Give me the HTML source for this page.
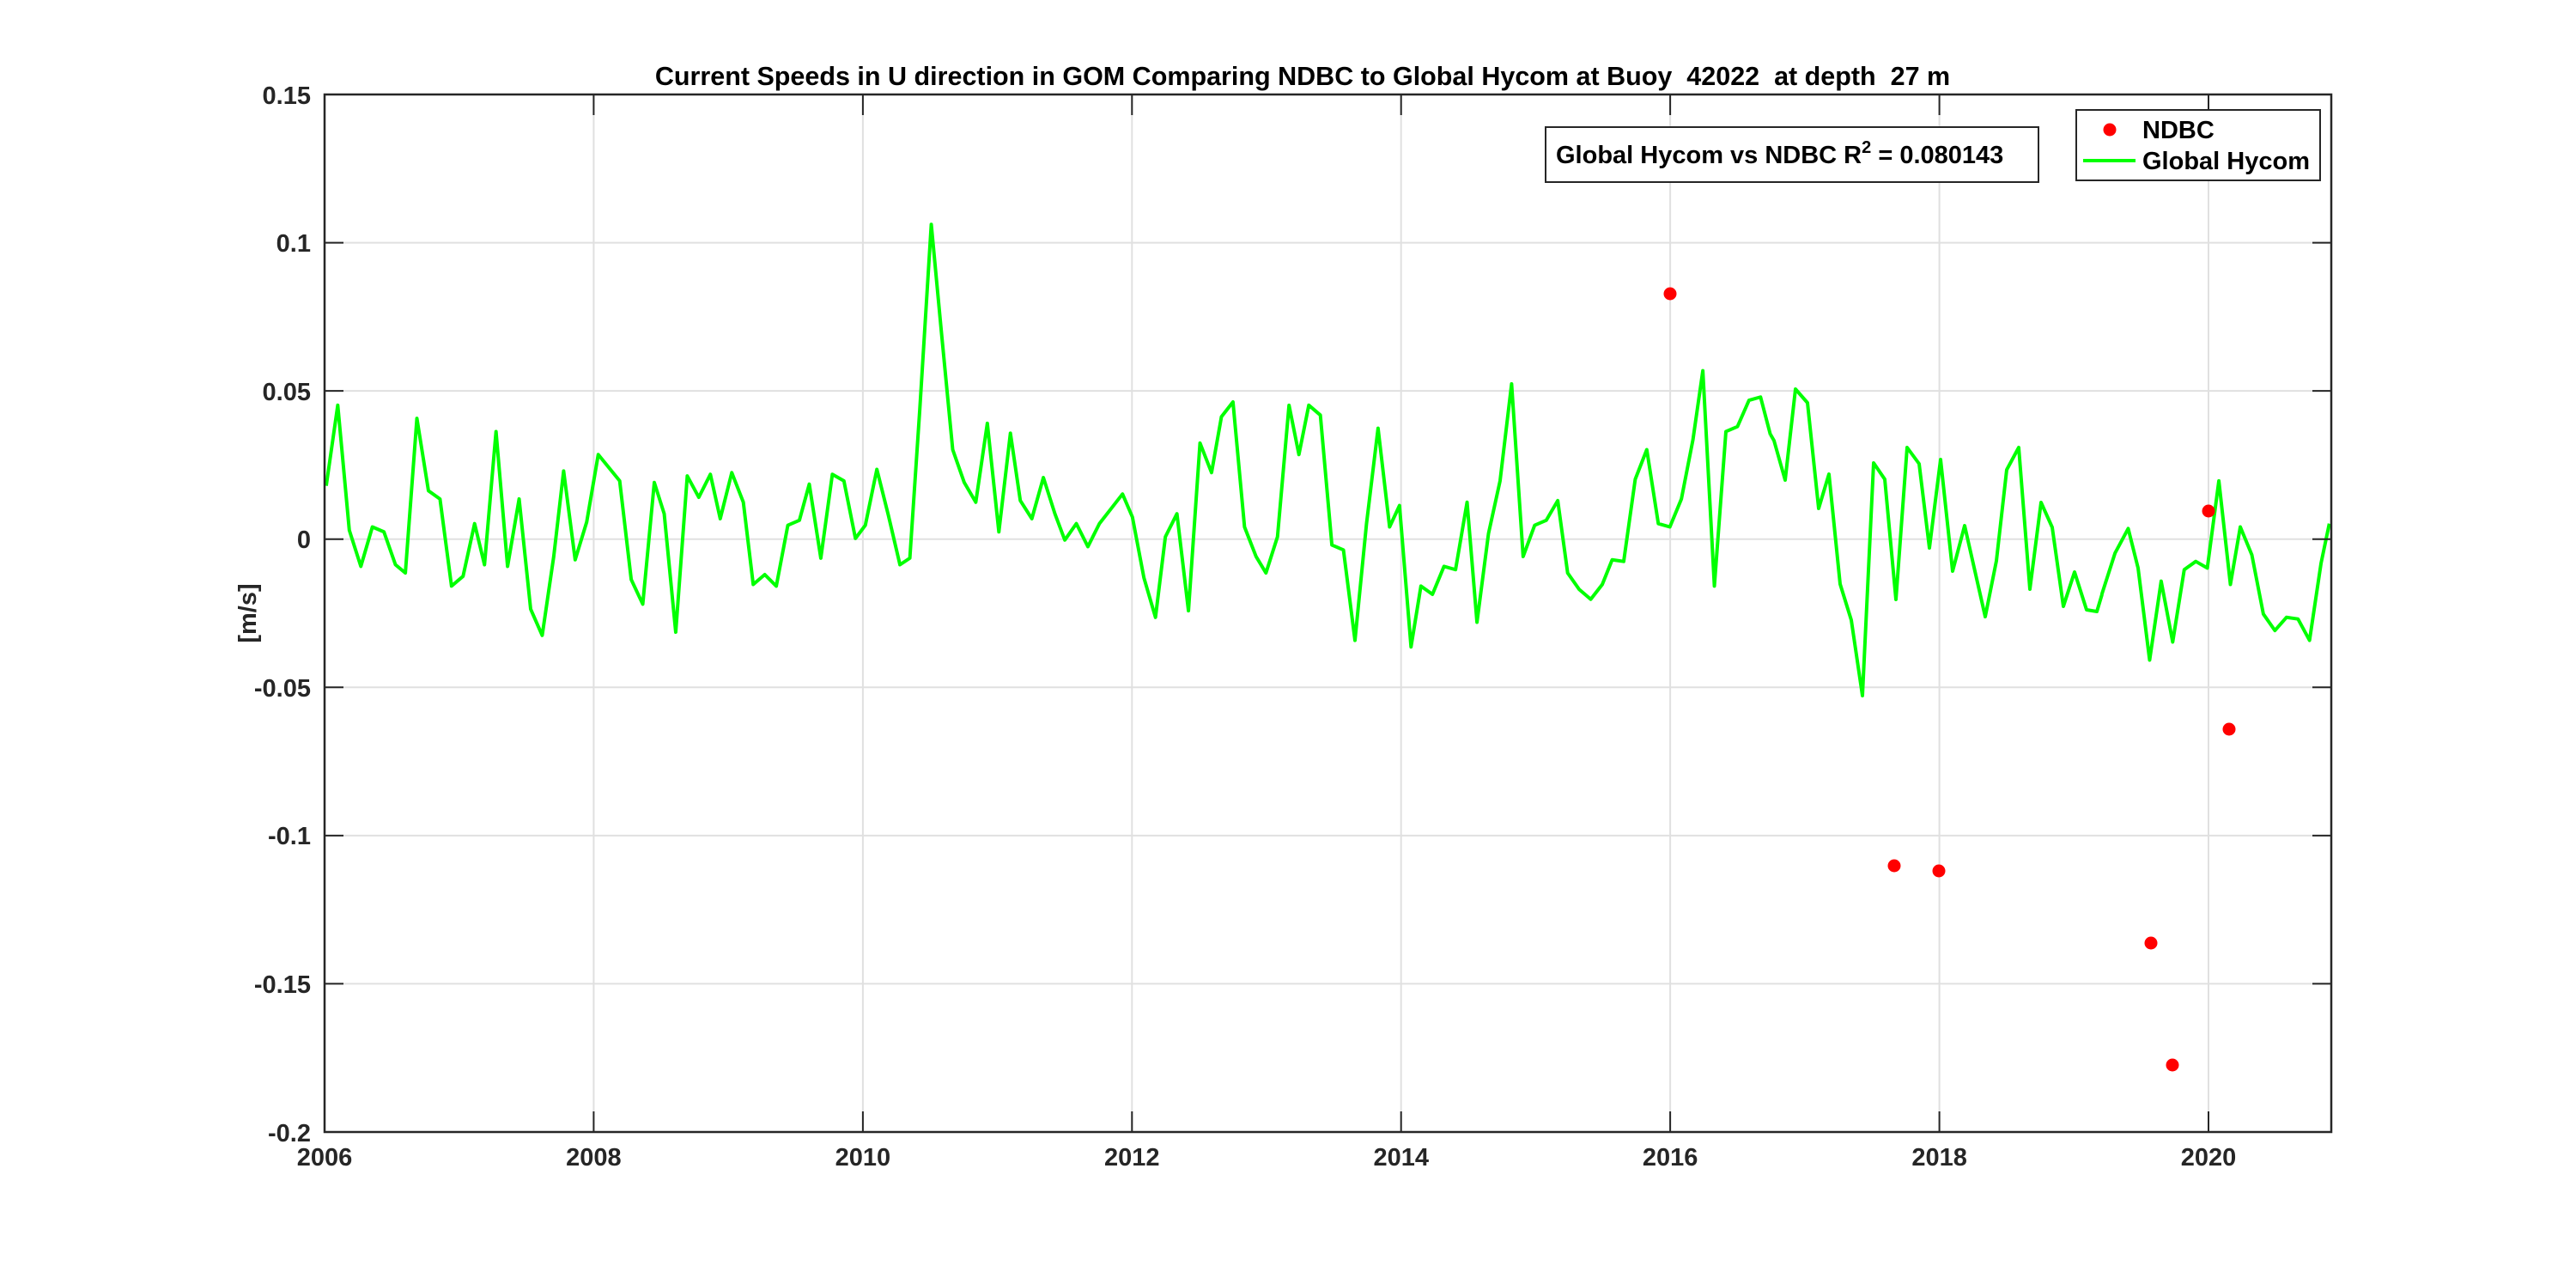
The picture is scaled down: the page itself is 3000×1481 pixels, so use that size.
<!DOCTYPE html>
<html><head><style>
html,body{margin:0;padding:0;background:#fff;}
svg{display:block;font-family:"Liberation Sans",Arial,sans-serif;font-weight:bold;}
</style></head><body>
<svg width="3000" height="1481" viewBox="0 0 3000 1481" xmlns="http://www.w3.org/2000/svg">
<rect width="3000" height="1481" fill="#fff"/>
<g stroke="#e0e0e0" stroke-width="2">
<line x1="691.4" y1="110" x2="691.4" y2="1318"/>
<line x1="1004.9" y1="110" x2="1004.9" y2="1318"/>
<line x1="1318.3" y1="110" x2="1318.3" y2="1318"/>
<line x1="1631.7" y1="110" x2="1631.7" y2="1318"/>
<line x1="1945.1" y1="110" x2="1945.1" y2="1318"/>
<line x1="2258.6" y1="110" x2="2258.6" y2="1318"/>
<line x1="2572" y1="110" x2="2572" y2="1318"/>
<line x1="378" y1="282.6" x2="2715" y2="282.6"/>
<line x1="378" y1="455.1" x2="2715" y2="455.1"/>
<line x1="378" y1="627.7" x2="2715" y2="627.7"/>
<line x1="378" y1="800.3" x2="2715" y2="800.3"/>
<line x1="378" y1="972.9" x2="2715" y2="972.9"/>
<line x1="378" y1="1145.4" x2="2715" y2="1145.4"/>
</g>
<g transform="translate(378 110) scale(1.92 1.9144) translate(-202 -57)">
<polyline fill="none" stroke="#00ff00" stroke-width="4" vector-effect="non-scaling-stroke" stroke-linejoin="round" points="203,295 210,246 217,322 224,344 231,320 238,323 245,343 251,348 258,254 265,298 272,303 279,356 286,350 293,318 299,343 306,262 313,344 320,303 327,370 334,386 341,338 347,286 354,340 361,317 368,276 381,292 388,352 395,367 402,293 408,312 415,384 422,289 429,302 436,288 442,315 449,287 456,305 462,355 469,349 476,356 483,319 490,316 496,294 503,339 510,288 517,292 524,327 530,319 537,285 544,313 551,343 557,339 563,249 570,136 576,200 583,273 590,293 597,305 604,257 611,323 618,263 624,304 631,315 638,290 645,312 651,328 658,318 665,332 672,318 679,309 686,300 692,314 699,351 706,375 712,326 719,312 726,371 733,269 740,287 746,253 753,244 760,320 767,338 773,348 780,326 787,246 793,276 799,246 806,252 813,331 820,334 827,389 834,318 841,260 848,320 854,307 861,393 867,356 874,361 881,344 888,346 895,305 901,378 908,324 915,292 922,233 929,338 936,319 943,316 950,304 956,348 963,358 970,364 977,355 983,340 990,341 997,291 1004,273 1011,318 1018,320 1025,303 1032,267 1038,225 1045,356 1052,262 1059,259 1066,243 1073,241 1079,264"/>
<polyline fill="none" stroke="#00ff00" stroke-width="4" vector-effect="non-scaling-stroke" stroke-linejoin="round" points="1280,361 1288,336 1296,321 1302,345 1309,401 1316,353 1323,390 1330,346 1337,341 1344,345 1351,292 1358,355 1364,320 1371,337 1378,373 1385,383 1392,375 1399,376 1406,389 1413,342 1418,318"/>
</g>
<polyline fill="none" stroke="#00ff00" stroke-width="4" stroke-linejoin="round" points="2062,506 2066,513 2079,559 2091,453 2105,469 2118,592 2130,552 2143,680 2156,722 2169,810 2182,539 2195,558 2208,698 2221,521 2235,540 2247,638 2260,535 2274,665 2288,612 2312,718 2325,653 2337,547 2351,521 2364,686 2377,585 2390,614 2403,706 2416,666 2430,710 2442,712 2448,692"/>
<g fill="#ff0000">
<circle cx="1945" cy="342" r="7.5"/>
<circle cx="2206" cy="1008" r="7.5"/>
<circle cx="2258" cy="1014" r="7.5"/>
<circle cx="2505" cy="1098" r="7.5"/>
<circle cx="2530" cy="1240" r="7.5"/>
<circle cx="2572" cy="595" r="7.5"/>
<circle cx="2596" cy="849" r="7.5"/>
</g>
<rect x="378" y="110" width="2337" height="1208" fill="none" stroke="#262626" stroke-width="2.5"/>
<g stroke="#262626" stroke-width="2">
<line x1="378" y1="1318" x2="378" y2="1294"/><line x1="691.4" y1="1318" x2="691.4" y2="1294"/><line x1="1004.9" y1="1318" x2="1004.9" y2="1294"/><line x1="1318.3" y1="1318" x2="1318.3" y2="1294"/><line x1="1631.7" y1="1318" x2="1631.7" y2="1294"/><line x1="1945.1" y1="1318" x2="1945.1" y2="1294"/><line x1="2258.6" y1="1318" x2="2258.6" y2="1294"/><line x1="2572" y1="1318" x2="2572" y2="1294"/>
<line x1="691.4" y1="110" x2="691.4" y2="134"/><line x1="1004.9" y1="110" x2="1004.9" y2="134"/><line x1="1318.3" y1="110" x2="1318.3" y2="134"/><line x1="1631.7" y1="110" x2="1631.7" y2="134"/><line x1="1945.1" y1="110" x2="1945.1" y2="134"/><line x1="2258.6" y1="110" x2="2258.6" y2="134"/><line x1="2572" y1="110" x2="2572" y2="134"/>
<line x1="378" y1="282.6" x2="400" y2="282.6"/><line x1="378" y1="455.1" x2="400" y2="455.1"/><line x1="378" y1="627.7" x2="400" y2="627.7"/><line x1="378" y1="800.3" x2="400" y2="800.3"/><line x1="378" y1="972.9" x2="400" y2="972.9"/><line x1="378" y1="1145.4" x2="400" y2="1145.4"/>
<line x1="2715" y1="282.6" x2="2693" y2="282.6"/><line x1="2715" y1="455.1" x2="2693" y2="455.1"/><line x1="2715" y1="627.7" x2="2693" y2="627.7"/><line x1="2715" y1="800.3" x2="2693" y2="800.3"/><line x1="2715" y1="972.9" x2="2693" y2="972.9"/><line x1="2715" y1="1145.4" x2="2693" y2="1145.4"/>
</g>
<g fill="#262626" font-size="29" text-anchor="end">
<text x="362" y="121">0.15</text>
<text x="362" y="293">0.1</text>
<text x="362" y="466">0.05</text>
<text x="362" y="638">0</text>
<text x="362" y="811">-0.05</text>
<text x="362" y="983">-0.1</text>
<text x="362" y="1156">-0.15</text>
<text x="362" y="1329">-0.2</text>
</g>
<g fill="#262626" font-size="29" text-anchor="middle">
<text x="378" y="1357">2006</text><text x="691.4" y="1357">2008</text><text x="1004.9" y="1357">2010</text><text x="1318.3" y="1357">2012</text><text x="1631.7" y="1357">2014</text><text x="1945.1" y="1357">2016</text><text x="2258.6" y="1357">2018</text><text x="2572" y="1357">2020</text>
</g>
<text transform="translate(298 714) rotate(-90)" font-size="29" text-anchor="middle" fill="#262626">[m/s]</text>
<text x="1517" y="99" font-size="30.5" text-anchor="middle" fill="#000" style="white-space:pre" xml:space="preserve">Current Speeds in U direction in GOM Comparing NDBC to Global Hycom at Buoy  42022  at depth  27 m</text>
<rect x="1800" y="148" width="574" height="64" fill="#fff" stroke="#262626" stroke-width="2"/>
<text x="1812" y="190" font-size="29" fill="#000">Global Hycom vs NDBC R<tspan font-size="20" dy="-12">2</tspan><tspan dy="12"> = 0.080143</tspan></text>
<rect x="2418" y="128" width="284" height="82" fill="#fff" stroke="#262626" stroke-width="2"/>
<circle cx="2457" cy="151" r="7.5" fill="#ff0000"/>
<line x1="2426" y1="187" x2="2487" y2="187" stroke="#00ff00" stroke-width="4"/>
<text x="2495" y="161" font-size="29" fill="#000">NDBC</text>
<text x="2495" y="197" font-size="29" fill="#000">Global Hycom</text>
</svg>
</body></html>
